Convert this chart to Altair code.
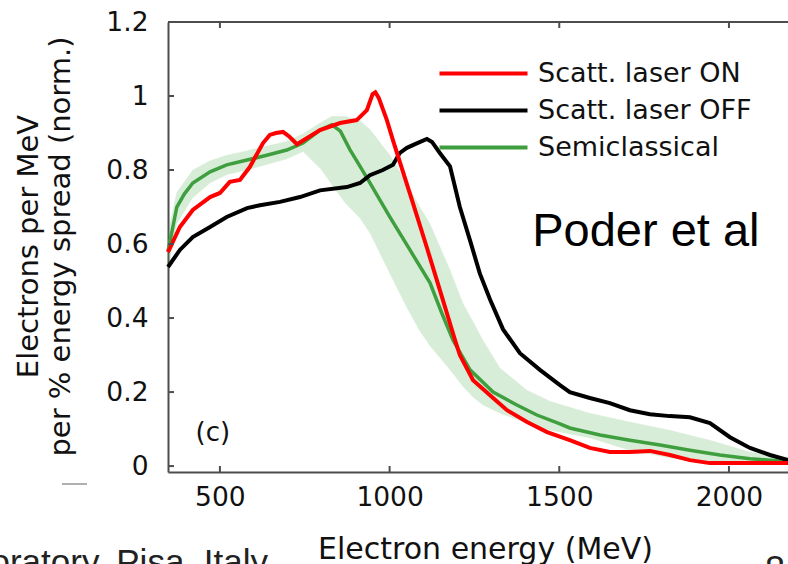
import altair as alt
import pandas as pd

# ---- data ----
series_names = ["Scatt. laser ON", "Scatt. laser OFF", "Semiclassical"]
series_colors = ["#ff0000", "#000000", "#3f9f3f"]

energy_on = [347, 382, 420, 471, 500, 529, 559, 588, 627, 647, 665, 686, 705, 727, 756, 795, 854, 903,
             933, 950, 958, 968, 992, 1010, 1069, 1110, 1150, 1193, 1207, 1246, 1305, 1346, 1405, 1464,
             1531, 1590, 1649, 1708, 1767, 1826, 1885, 1944, 2174]
signal_on = [0.578, 0.646, 0.692, 0.727, 0.738, 0.768, 0.773, 0.808, 0.873, 0.895, 0.900, 0.903, 0.890,
             0.870, 0.886, 0.908, 0.927, 0.935, 0.962, 1.005, 1.010, 0.995, 0.935, 0.880, 0.710, 0.590,
             0.470, 0.340, 0.300, 0.232, 0.184, 0.151, 0.119, 0.092, 0.070, 0.049, 0.038, 0.038, 0.041,
             0.030, 0.016, 0.008, 0.008]

energy_off = [347, 382, 420, 471, 520, 580, 618, 677, 736, 795, 874, 913, 942, 980, 1010, 1030, 1051, 1080,
              1110, 1125, 1148, 1178, 1207, 1237, 1266, 1296, 1334, 1384, 1443, 1502, 1531, 1590, 1649,
              1708, 1767, 1826, 1885, 1944, 2003, 2062, 2121, 2174]
signal_off = [0.538, 0.584, 0.619, 0.646, 0.673, 0.697, 0.705, 0.714, 0.727, 0.745, 0.754, 0.765, 0.786,
              0.800, 0.814, 0.846, 0.860, 0.872, 0.884, 0.876, 0.846, 0.810, 0.700, 0.610, 0.520, 0.450,
              0.370, 0.305, 0.260, 0.219, 0.200, 0.184, 0.170, 0.151, 0.140, 0.135, 0.132, 0.116, 0.078,
              0.049, 0.030, 0.016]

energy_semi = [347, 360, 373, 395, 420, 471, 520, 580, 638, 697, 745, 795, 830, 855, 883, 913, 942, 1001,
               1060, 1119, 1154, 1187, 1237, 1305, 1375, 1434, 1502, 1531, 1620, 1708, 1797, 1885, 1973,
               2062, 2174]
signal_semi = [0.580, 0.640, 0.700, 0.735, 0.765, 0.795, 0.814, 0.827, 0.840, 0.854, 0.873, 0.908, 0.922,
               0.905, 0.855, 0.810, 0.765, 0.673, 0.584, 0.495, 0.413, 0.340, 0.260, 0.200, 0.165, 0.138,
               0.114, 0.103, 0.084, 0.070, 0.057, 0.043, 0.030, 0.020, 0.012]

band_energy = [347, 373, 420, 471, 520, 580, 638, 697, 745, 800, 830, 870, 913, 942, 1001, 1050, 1089,
               1119, 1178, 1216, 1246, 1275, 1325, 1405, 1473, 1590, 1708, 1826, 1944, 2062, 2174]
band_low = [0.530, 0.655, 0.725, 0.765, 0.787, 0.800, 0.815, 0.830, 0.850, 0.800, 0.760, 0.710, 0.670,
            0.630, 0.520, 0.430, 0.365, 0.325, 0.260, 0.215, 0.186, 0.165, 0.143, 0.116, 0.097, 0.076,
            0.043, 0.022, 0.011, 0.007, 0.006]
band_high = [0.630, 0.740, 0.800, 0.825, 0.840, 0.852, 0.865, 0.878, 0.898, 0.930, 0.945, 0.945, 0.932,
             0.910, 0.840, 0.765, 0.700, 0.655, 0.530, 0.440, 0.390, 0.340, 0.265, 0.205, 0.175, 0.143,
             0.119, 0.097, 0.070, 0.038, 0.024]

x_ticks = [500, 1000, 1500, 2000]
y_ticks = [0, 0.2, 0.4, 0.6, 0.8, 1.0, 1.2]

panel_label = ["(c)"]
panel_label_energy = [479]
panel_label_value = [0.089]
credit_label = ["Poder et al"]
credit_energy = [1755]
credit_value = [0.632]

# ---- tables ----
df_on = pd.DataFrame({"energy": energy_on, "value": signal_on, "series": series_names[0]})
df_off = pd.DataFrame({"energy": energy_off, "value": signal_off, "series": series_names[1]})
df_semi = pd.DataFrame({"energy": energy_semi, "value": signal_semi, "series": series_names[2]})
df_band = pd.DataFrame({"energy": band_energy, "lo": band_low, "hi": band_high})
df_panel = pd.DataFrame({"energy": panel_label_energy, "value": panel_label_value, "t": panel_label})
df_credit = pd.DataFrame({"energy": credit_energy, "value": credit_value, "t": credit_label})
df_xt = pd.DataFrame({"t": x_ticks})
df_yt = pd.DataFrame({"t": y_ticks})

FONT = "DejaVu Sans"
AX = "#4d4d4d"
TXT = "#111111"
W, H = 620, 450
TICK = 6

xs = alt.Scale(domain=[347, 2174], nice=False, zero=False)
ys = alt.Scale(domain=[-0.016, 1.2], nice=False, zero=False)

legend = alt.Legend(
    orient="none", legendX=302, legendY=38, title=None,
    symbolType="M-4,0H4", symbolSize=484, symbolStrokeWidth=4,
    labelFont=FONT, labelFontSize=27, labelColor=TXT, labelOffset=41, labelLimit=0,
    rowPadding=9, padding=0,
)
color_enc = alt.Color("series:N", scale=alt.Scale(domain=series_names, range=series_colors), legend=legend)

band = alt.Chart(df_band).mark_area(color="#4caf50", opacity=0.22, stroke="#4caf50", strokeOpacity=0.25,
                                    strokeWidth=1).encode(
    x=alt.X("energy:Q", scale=xs, axis=alt.Axis(
        orient="bottom", values=x_ticks, format="d", ticks=False, domain=True, domainColor=AX,
        domainWidth=2, labelFont=FONT, labelFontSize=26.5, labelColor=TXT, labelPadding=12, grid=False,
        title="Electron energy (MeV)", titleFont=FONT, titleFontSize=30, titleFontWeight="normal",
        titleColor=TXT, titleX=317, titleY=86, titleBaseline="alphabetic", titleAlign="center")),
    y=alt.Y("lo:Q", scale=ys, axis=alt.Axis(
        orient="left", values=y_ticks, format="~g", ticks=False, domain=True, domainColor=AX,
        domainWidth=2, labelFont=FONT, labelFontSize=26.5, labelColor=TXT, labelPadding=20, grid=False,
        title=["Electrons per MeV", "per % energy spread (norm.)"], titleFont=FONT, titleFontSize=29,
        titleFontWeight="normal", titleColor=TXT, titleLineHeight=32, titleX=-140, titleY=224,
        titleAngle=-90, titleAlign="center", titleBaseline="middle")),
    y2="hi:Q",
)

semi = alt.Chart(df_semi).mark_line(strokeWidth=3.5).encode(
    x=alt.X("energy:Q", scale=xs, axis=None),
    y=alt.Y("value:Q", scale=ys, axis=None),
    color=color_enc,
)
off = alt.Chart(df_off).mark_line(strokeWidth=4).encode(
    x=alt.X("energy:Q", scale=xs, axis=None),
    y=alt.Y("value:Q", scale=ys, axis=None),
    color=color_enc,
)
on = alt.Chart(df_on).mark_line(strokeWidth=4).encode(
    x=alt.X("energy:Q", scale=xs, axis=None),
    y=alt.Y("value:Q", scale=ys, axis=None),
    color=color_enc,
)

# frame top edge and inward ticks
top_edge = alt.Chart(pd.DataFrame({"k": [0]})).mark_rule(color=AX, strokeWidth=2).encode(
    x=alt.value(0), x2=alt.value(W), y=alt.value(0))
xt_bottom = alt.Chart(df_xt).mark_rule(color=AX, strokeWidth=2).encode(
    x=alt.X("t:Q", scale=xs, axis=None), y=alt.value(H), y2=alt.value(H - TICK))
xt_top = alt.Chart(df_xt).mark_rule(color=AX, strokeWidth=2).encode(
    x=alt.X("t:Q", scale=xs, axis=None), y=alt.value(0), y2=alt.value(TICK))
yt_left = alt.Chart(df_yt).mark_rule(color=AX, strokeWidth=2).encode(
    y=alt.Y("t:Q", scale=ys, axis=None), x=alt.value(0), x2=alt.value(TICK))

panel = alt.Chart(df_panel).mark_text(font=FONT, fontSize=26, color=TXT, align="center",
                                      baseline="middle").encode(
    x=alt.X("energy:Q", scale=xs, axis=None), y=alt.Y("value:Q", scale=ys, axis=None), text="t:N")

credit = alt.Chart(df_credit).mark_text(font="Liberation Sans", fontSize=47, color="#000000",
                                        align="center", baseline="middle").encode(
    x=alt.X("energy:Q", scale=xs, axis=None), y=alt.Y("value:Q", scale=ys, axis=None), text="t:N")

# slide remnants around the figure
footer = alt.Chart(pd.DataFrame({"t": ["Laboratory, Pisa, Italy"]})).mark_text(
    font="Liberation Sans", fontSize=35, color="#222222", align="right", baseline="alphabetic").encode(
    x=alt.value(100), y=alt.value(552), text="t:N")
page = alt.Chart(pd.DataFrame({"t": ["8"]})).mark_text(
    font="Liberation Sans", fontSize=36, color="#222222", align="left", baseline="alphabetic").encode(
    x=alt.value(597), y=alt.value(560), text="t:N")
dash = alt.Chart(pd.DataFrame({"k": [0]})).mark_rule(color="#b0b0b0", strokeWidth=2).encode(
    x=alt.value(-106), x2=alt.value(-81), y=alt.value(462))

chart = alt.layer(band, semi, off, on, top_edge, xt_bottom, xt_top, yt_left, panel, credit,
                  footer, page, dash).resolve_axis(
    x="independent", y="independent"
).properties(
    width=W, height=H,
    autosize=alt.AutoSizeParams(type="none"),
    padding={"left": 168, "top": 22, "right": 0, "bottom": 92},
).configure_view(stroke=None)

chart.save("out.html", embed_options={"renderer": "svg", "actions": False})
